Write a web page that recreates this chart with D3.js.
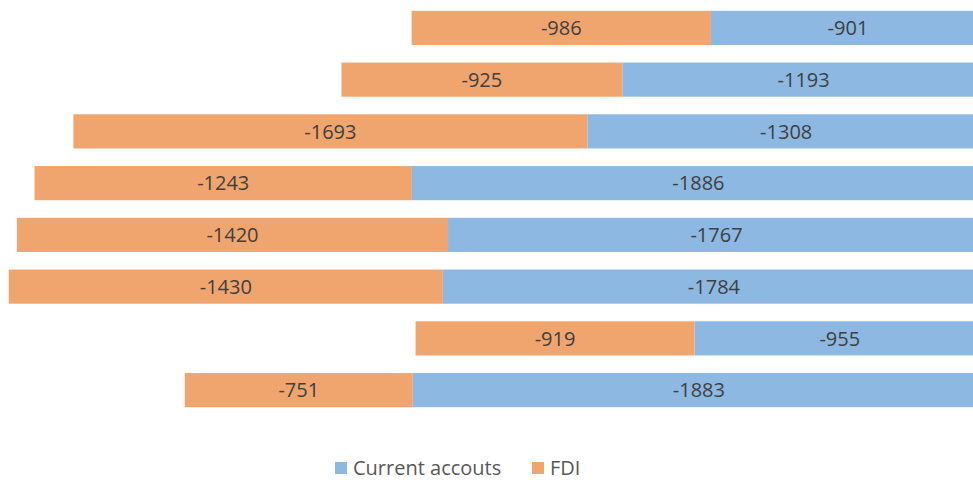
<!DOCTYPE html>
<html>
<head>
<meta charset="utf-8">
<script src="https://cdn.jsdelivr.net/npm/d3@7"></script>
<style>
  html, body { margin: 0; padding: 0; background: #fff; overflow: hidden; }
  svg { display: block; }
</style>
</head>
<body>
<svg id="chart" width="973" height="480"></svg>
<script>
// Rows from top to bottom
const rows = ["r1", "r2", "r3", "r4", "r5", "r6", "r7", "r8"];
const currentAccounts = [-901, -1193, -1308, -1886, -1767, -1784, -955, -1883];
const fdi = [-986, -925, -1693, -1243, -1420, -1430, -919, -751];
const seriesNames = ["Current accouts", "FDI"];
const seriesColors = ["#8cb8e2", "#f0a56f"];

const svg = d3.select("#chart");
const font = "'Open Sans', 'Noto Sans', sans-serif";

// Value axis: zero sits just beyond the right edge, negatives grow leftward
const x = d3.scaleLinear().domain([-3250, 0]).range([-2.2, 984.5]);
const y = d3.scaleBand().domain(rows).range([2, 416]).paddingInner(0.34).paddingOuter(0.17);

const table = rows.map((r, i) => ({ row: r, "Current accouts": currentAccounts[i], "FDI": fdi[i] }));
const stacked = d3.stack()
  .keys(seriesNames)
  .offset(d3.stackOffsetDiverging)(table);

const layers = svg.append("g").selectAll("g")
  .data(stacked)
  .join("g")
  .attr("fill", (d, i) => seriesColors[i]);

layers.selectAll("rect")
  .data(d => d)
  .join("rect")
  .attr("x", d => x(Math.min(d[0], d[1])))
  .attr("width", d => Math.abs(x(d[1]) - x(d[0])))
  .attr("y", d => y(d.data.row))
  .attr("height", y.bandwidth());

// Value labels centred in each segment (within the visible area)
layers.selectAll("text")
  .data((d, i) => d.map(v => ({ v, key: seriesNames[i] })))
  .join("text")
  .attr("x", d => {
    const a = Math.max(0, x(Math.min(d.v[0], d.v[1])));
    const b = Math.min(973, x(Math.max(d.v[0], d.v[1])));
    return (a + b) / 2 + (d.key === "Current accouts" ? 6 : 0);
  })
  .attr("y", d => y(d.v.data.row) + y.bandwidth() / 2)
  .attr("dy", "0.36em")
  .attr("text-anchor", "middle")
  .attr("fill", "#404040")
  .style("font-family", font)
  .style("font-size", "20px")
  .text(d => d.v.data[d.key]);

// Legend
const legend = svg.append("g").attr("transform", "translate(335,468)");
const legendX = [0, 197];
seriesNames.forEach((name, i) => {
  const g = legend.append("g").attr("transform", `translate(${legendX[i]},0)`);
  g.append("rect").attr("x", 0).attr("y", -6).attr("width", 12).attr("height", 12).attr("fill", seriesColors[i]);
  g.append("text")
    .attr("x", 18).attr("y", 0).attr("dy", "0.36em")
    .attr("fill", "#595959")
    .style("font-family", font)
    .style("font-size", "20px")
    .text(name);
});
</script>
</body>
</html>
